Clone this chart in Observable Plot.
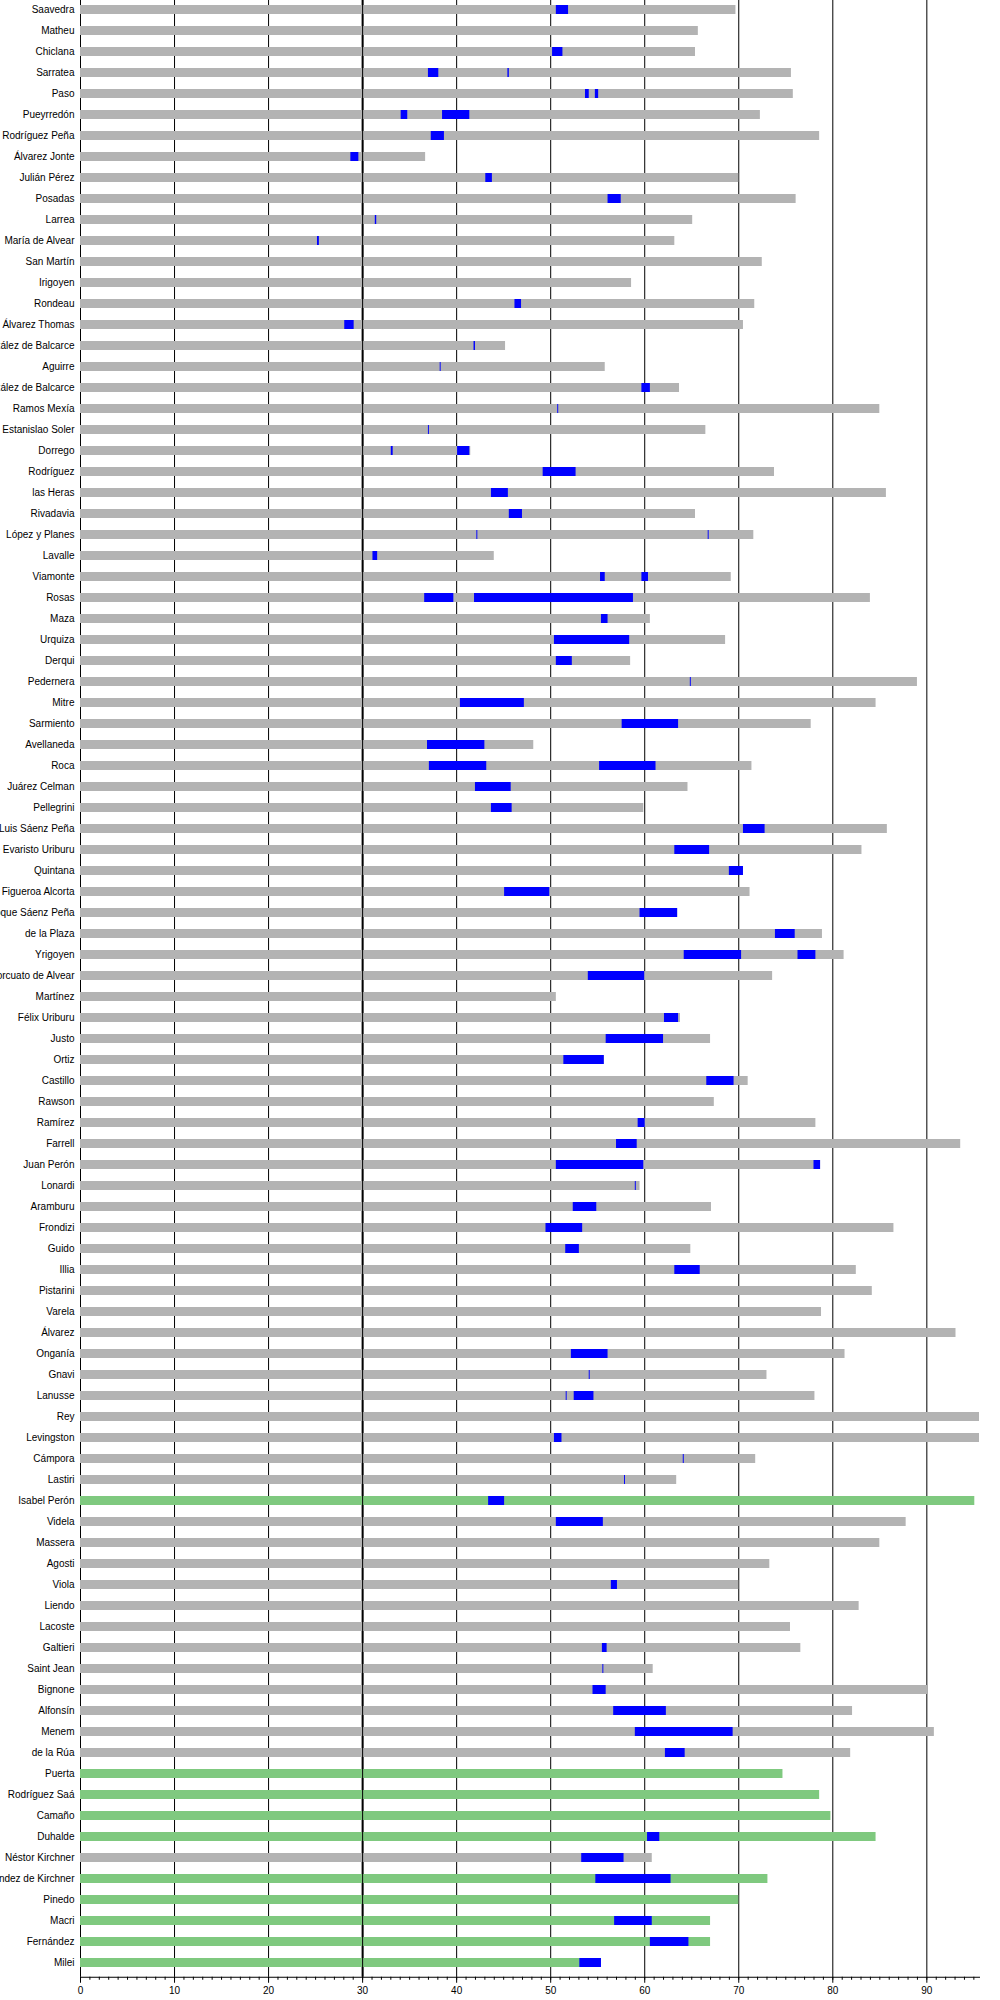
<!DOCTYPE html>
<html><head><meta charset="utf-8">
<script src="https://cdn.jsdelivr.net/npm/d3@7"></script>
<script src="https://cdn.jsdelivr.net/npm/@observablehq/plot@0.6"></script>
<style>
html,body{margin:0;padding:0;background:#fff;}
#chart svg{display:block;overflow:hidden;}
</style>
</head><body><div id="chart"></div>
<script>
// Row labels (top to bottom)
const names = [
"Saavedra","Matheu","Chiclana","Sarratea","Paso","Pueyrredón","Rodríguez Peña","Álvarez Jonte","Julián Pérez","Posadas",
"Larrea","María de Alvear","San Martín","Irigoyen","Rondeau","Álvarez Thomas","González de Balcarce","Aguirre","González de Balcarce","Ramos Mexía",
"Estanislao Soler","Dorrego","Rodríguez","las Heras","Rivadavia","López y Planes","Lavalle","Viamonte","Rosas","Maza",
"Urquiza","Derqui","Pedernera","Mitre","Sarmiento","Avellaneda","Roca","Juárez Celman","Pellegrini","Luis Sáenz Peña",
"José Evaristo Uriburu","Quintana","José Figueroa Alcorta","Roque Sáenz Peña","de la Plaza","Yrigoyen","Marcelo Torcuato de Alvear","Martínez","Félix Uriburu","Justo",
"Ortiz","Castillo","Rawson","Ramírez","Farrell","Juan Perón","Lonardi","Aramburu","Frondizi","Guido",
"Illia","Pistarini","Varela","Álvarez","Onganía","Gnavi","Lanusse","Rey","Levingston","Cámpora",
"Lastiri","Isabel Perón","Videla","Massera","Agosti","Viola","Liendo","Lacoste","Galtieri","Saint Jean",
"Bignone","Alfonsín","Menem","de la Rúa","Puerta","Rodríguez Saá","Camaño","Duhalde","Néstor Kirchner","Cristina Fernández de Kirchner",
"Pinedo","Macri","Fernández","Milei"];

// Age at death (or current age for living)
const endAge = [
69.7,65.7,65.4,75.6,75.8,72.3,78.6,36.7,70.0,76.1,
65.1,63.2,72.5,58.6,71.7,70.5,45.2,55.8,63.7,85.0,
66.5,41.5,73.8,85.7,65.4,71.6,44.0,69.2,84.0,60.6,
68.6,58.5,89.0,84.6,77.7,48.2,71.4,64.6,59.9,85.8,
83.1,70.5,71.2,63.5,78.9,81.2,73.6,50.6,63.8,67.0,
55.7,71.0,67.4,78.2,93.6,78.7,59.5,67.1,86.5,64.9,
82.5,84.2,78.8,93.1,81.3,73.0,78.1,95.6,95.6,71.8,
63.4,95.1,87.8,85.0,73.3,70.0,82.8,75.5,76.6,60.9,
90.1,82.1,90.8,81.9,74.7,78.6,79.8,84.6,60.8,73.1,
70.0,67.0,67.0,55.4];

// Rows of living people (green)
const livingRows = [71,84,85,86,87,89,90,91,92,93];

// Terms in office: [row, age start, age end]
const terms = [
[0,50.6,51.9],[2,50.2,51.3],[3,37.0,38.1],[3,45.45,45.6],[4,53.7,54.1],[4,54.75,55.1],
[5,34.1,34.8],[5,38.5,41.4],[6,37.3,38.7],[7,28.75,29.6],[8,43.1,43.8],[9,56.1,57.5],
[10,31.35,31.5],[11,25.2,25.4],[14,46.2,46.9],[15,28.1,29.1],[16,41.85,42.0],[17,38.25,38.35],
[18,59.7,60.6],[19,50.75,50.85],[20,37.0,37.1],[21,33.05,33.25],[21,40.1,41.4],[22,49.2,52.7],
[23,43.7,45.5],[24,45.6,47.0],[25,42.15,42.25],[25,66.75,66.85],[26,31.1,31.6],[27,55.3,55.8],
[27,59.7,60.4],[28,36.6,39.7],[28,41.9,58.8],[29,55.4,56.1],[30,50.4,58.4],[31,50.6,52.3],
[32,64.85,64.95],[33,40.4,47.2],[34,57.6,63.6],[35,36.9,43.0],[36,37.1,43.2],[36,55.2,61.2],
[37,42.0,45.8],[38,43.7,45.9],[39,70.5,72.8],[40,63.2,66.9],[41,69.0,70.5],[42,45.1,49.9],
[43,59.5,63.5],[44,73.9,76.0],[45,64.2,70.3],[45,76.3,78.2],[46,54.0,60.0],[48,62.1,63.6],
[49,55.9,62.0],[50,51.4,55.7],[51,66.6,69.5],[53,59.3,60.05],[54,57.0,59.2],[55,50.6,59.9],
[55,78.0,78.7],[56,59.0,59.1],[57,52.4,54.9],[58,49.5,53.4],[59,51.6,53.05],[60,63.2,65.9],
[64,52.2,56.1],[65,54.1,54.2],[66,51.65,51.75],[66,52.5,54.6],[68,50.4,51.2],[69,64.1,64.2],
[70,57.85,57.95],[71,43.4,45.1],[72,50.6,55.6],[75,56.45,57.1],[78,55.5,56.0],[79,55.55,55.65],
[80,54.5,55.9],[81,56.7,62.3],[82,59.0,69.4],[83,62.2,64.3],[87,60.3,61.6],[88,53.3,57.8],
[89,54.8,62.8],[91,56.8,60.8],[92,60.6,64.7],[93,53.1,55.4]];

const xTicks = [0,10,20,30,40,50,60,70,80,90];
const minorTicks = d3.range(0, 96, 1);

const rows = names.map((n, i) => ({i, end: endAge[i], living: livingRows.includes(i)}));
const termRows = terms.map(([i, a, b]) => ({i, a, b}));

const W = 1000, H = 2000;
const yTop = -5.24, yBottom = 1976.75;

const chart = Plot.plot({
  width: W, height: H,
  marginLeft: 80, marginRight: 21, marginTop: 0, marginBottom: H - yBottom,
  style: {fontFamily: "'Liberation Sans', Arial, sans-serif", fontSize: "10px", background: "#fff", color: "#000"},
  x: {domain: [0, 95.6], axis: null, label: null},
  y: {type: "band", domain: d3.range(names.length), range: [yTop, yBottom], paddingInner: 0.58, paddingOuter: 0.29, axis: null, label: null},
  marks: [
    Plot.ruleX(xTicks.filter(d => d !== 30), {stroke: "#000", strokeWidth: 1}),
    Plot.ruleX([30], {stroke: "#000", strokeWidth: 2}),
    Plot.barX(rows.filter(d => !d.living), {y: "i", x1: 0, x2: "end", fill: "#b3b3b3"}),
    Plot.barX(rows.filter(d => d.living), {y: "i", x1: 0, x2: "end", fill: "#7fc97f"}),
    Plot.barX(termRows, {y: "i", x1: "a", x2: "b", fill: "#0000ff"}),
    Plot.ruleX([30], {stroke: "#000", strokeWidth: 1}),
    Plot.axisY({tickSize: 0, tickPadding: 6, tickFormat: i => names[i], label: null}),
    Plot.axisX(minorTicks, {tickSize: 3, tickFormat: () => "", label: null}),
    Plot.axisX(xTicks, {tickSize: 6, tickPadding: 4, label: null}),
    Plot.frame({anchor: "bottom"})
  ]
});
document.getElementById("chart").appendChild(chart);
</script>
</body></html>
